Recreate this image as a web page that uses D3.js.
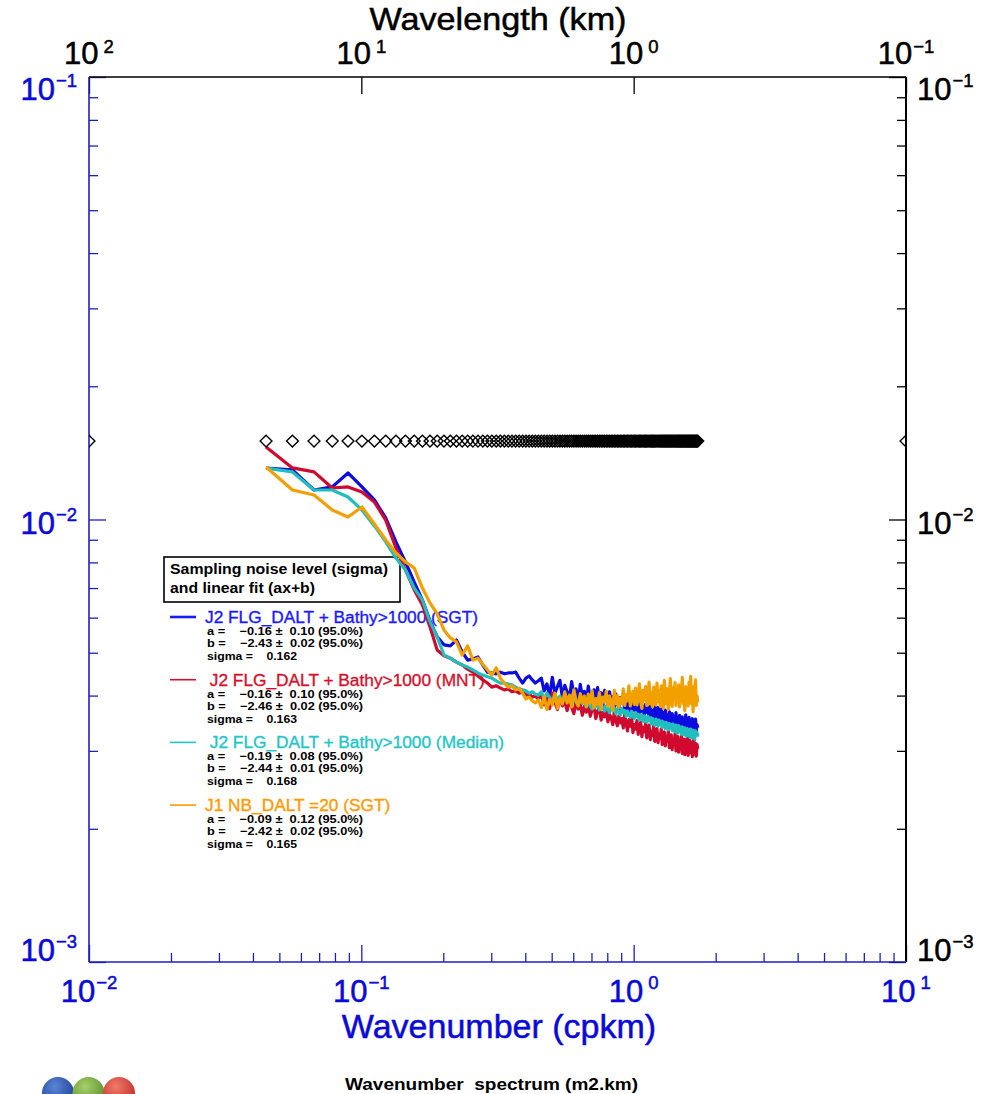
<!DOCTYPE html>
<html><head><meta charset="utf-8">
<script src="https://cdn.jsdelivr.net/npm/d3@7"></script>
<style>
html,body{margin:0;padding:0;background:#fff;overflow:hidden}
svg{display:block}
text{font-family:"Liberation Sans",Arial,Helvetica,sans-serif}
</style></head><body>
<svg id="chart" width="983" height="1094"></svg>
<script>
// ---------------- DATA ----------------
// wavenumber grid (cpkm)
const wavenumber = [
0.04468,0.05585,0.06702,0.07819,0.08936,0.1005,0.1117,0.1229,0.1340,0.1452,
0.1564,0.1676,0.1787,0.1899,0.2011,0.2122,0.2234,0.2346,0.2457,0.2569,
0.2681,0.2793,0.2904,0.3016,0.3128,0.3239,0.3351,0.3463,0.3574,0.3686,
0.3798,0.3910,0.4021,0.4133,0.4245,0.4356,0.4468,
0.4580,0.4691,0.4803,0.4915,0.5027,0.5138,0.5250,0.5362,0.5473,0.5585,
0.5697,0.5808,0.5920,0.6032,0.6144,0.6255,0.6367,0.6479,0.6590,0.6702,
0.6814,0.6925,0.7037,0.7149,0.7261,0.7372,0.7484,0.7596,0.7707,0.7819,
0.7931,0.8042,0.8154,0.8266,0.8378,0.8489,0.8601,0.8713,0.8824,0.8936,
0.9048,0.9159,0.9271,0.9383,0.9495,0.9606,0.9718,0.9830,0.9941,1.005,
1.016,1.028,1.039,1.050,1.061,1.072,1.083,1.095,1.106,1.117,
1.128,1.139,1.151,1.162,1.173,1.184,1.195,1.206,1.218,1.229,
1.240,1.251,1.262,1.273,1.285,1.296,1.307,1.318,1.329,1.340,
1.352,1.363,1.374,1.385,1.396,1.407,1.419,1.430,1.441,1.452,
1.463,1.474,1.486,1.497,1.508,1.519,1.530,1.541,1.553,1.564,
1.575,1.586,1.597,1.608,1.620,1.631,1.642,1.653,1.664,1.676,
1.687,1.698,1.709,1.720];

// J2 FLG_DALT + Bathy>1000 (SGT)
const spectrumSGT = [
13.07e-3,12.94e-3,11.66e-3,11.85e-3,12.74e-3,11.85e-3,11.07e-3,10.08e-3,8.90e-3,8.02e-3,
7.22e-3,6.58e-3,5.90e-3,5.43e-3,5.21e-3,5.18e-3,5.34e-3,5.02e-3,4.81e-3,4.84e-3,
4.89e-3,4.69e-3,4.52e-3,4.50e-3,4.48e-3,4.52e-3,4.48e-3,4.50e-3,4.50e-3,4.52e-3,
4.38e-3,4.27e-3,4.38e-3,4.43e-3,4.34e-3,4.27e-3,4.32e-3,
4.38e-3,4.10e-3,4.25e-3,3.98e-3,4.40e-3,4.05e-3,4.19e-3,4.33e-3,3.96e-3,4.22e-3,
4.08e-3,3.93e-3,4.30e-3,4.01e-3,4.14e-3,3.88e-3,4.24e-3,3.97e-3,4.09e-3,3.86e-3,
4.20e-3,3.95e-3,3.83e-3,4.12e-3,3.99e-3,4.17e-3,3.85e-3,4.06e-3,3.79e-3,4.11e-3,
3.92e-3,3.81e-3,4.08e-3,3.86e-3,3.98e-3,3.74e-3,4.03e-3,3.90e-3,3.72e-3,3.96e-3,
3.84e-3,4.00e-3,3.70e-3,3.91e-3,3.79e-3,3.66e-3,3.94e-3,3.80e-3,3.71e-3,3.89e-3,
3.63e-3,3.85e-3,3.74e-3,3.60e-3,3.88e-3,3.69e-3,3.78e-3,3.58e-3,3.82e-3,3.67e-3,
3.75e-3,3.55e-3,3.84e-3,3.62e-3,3.70e-3,3.52e-3,3.79e-3,3.64e-3,3.57e-3,3.76e-3,
3.60e-3,3.49e-3,3.73e-3,3.56e-3,3.66e-3,3.46e-3,3.71e-3,3.53e-3,3.62e-3,3.44e-3,
3.68e-3,3.51e-3,3.40e-3,3.64e-3,3.48e-3,3.59e-3,3.38e-3,3.66e-3,3.45e-3,3.55e-3,
3.36e-3,3.61e-3,3.47e-3,3.33e-3,3.58e-3,3.43e-3,3.52e-3,3.31e-3,3.62e-3,3.41e-3,
3.50e-3,3.29e-3,3.57e-3,3.39e-3,3.46e-3,3.27e-3,3.55e-3,3.36e-3,3.48e-3,3.30e-3,
3.54e-3,3.33e-3,3.44e-3,3.38e-3];

// J2 FLG_DALT + Bathy>1000 (MNT)
const spectrumMNT = [
14.58e-3,13.08e-3,12.81e-3,11.78e-3,11.85e-3,11.54e-3,10.95e-3,9.97e-3,8.62e-3,7.69e-3,
6.93e-3,6.41e-3,5.72e-3,5.07e-3,4.92e-3,4.86e-3,4.76e-3,4.69e-3,4.59e-3,4.52e-3,
4.43e-3,4.34e-3,4.27e-3,4.18e-3,4.21e-3,4.16e-3,4.12e-3,4.14e-3,4.08e-3,4.10e-3,
4.05e-3,4.08e-3,4.01e-3,4.03e-3,3.97e-3,3.99e-3,3.93e-3,
4.02e-3,3.81e-3,3.95e-3,3.74e-3,4.05e-3,3.86e-3,3.72e-3,3.97e-3,3.79e-3,3.88e-3,
3.70e-3,3.92e-3,3.76e-3,3.64e-3,3.89e-3,3.73e-3,3.82e-3,3.61e-3,3.78e-3,3.67e-3,
3.85e-3,3.59e-3,3.71e-3,3.80e-3,3.55e-3,3.69e-3,3.76e-3,3.52e-3,3.66e-3,3.58e-3,
3.74e-3,3.49e-3,3.63e-3,3.56e-3,3.44e-3,3.68e-3,3.51e-3,3.42e-3,3.60e-3,3.47e-3,
3.55e-3,3.38e-3,3.62e-3,3.45e-3,3.33e-3,3.53e-3,3.41e-3,3.58e-3,3.30e-3,3.44e-3,
3.36e-3,3.51e-3,3.27e-3,3.40e-3,3.48e-3,3.23e-3,3.39e-3,3.31e-3,3.46e-3,3.21e-3,
3.35e-3,3.43e-3,3.18e-3,3.32e-3,3.25e-3,3.41e-3,3.15e-3,3.29e-3,3.37e-3,3.13e-3,
3.27e-3,3.20e-3,3.36e-3,3.10e-3,3.24e-3,3.31e-3,3.08e-3,3.22e-3,3.15e-3,3.33e-3,
3.05e-3,3.19e-3,3.26e-3,3.02e-3,3.17e-3,3.09e-3,3.28e-3,3.00e-3,3.13e-3,3.23e-3,
2.98e-3,3.15e-3,3.06e-3,3.25e-3,2.96e-3,3.11e-3,3.19e-3,2.94e-3,3.08e-3,3.16e-3,
3.22e-3,2.93e-3,3.05e-3,3.17e-3,2.97e-3,3.14e-3,2.91e-3,3.09e-3,3.20e-3,2.95e-3,
3.12e-3,2.92e-3,3.10e-3,3.03e-3];

// J2 FLG_DALT + Bathy>1000 (Median)
const spectrumMedian = [
13.07e-3,12.81e-3,11.66e-3,11.66e-3,11.24e-3,10.51e-3,9.67e-3,8.90e-3,8.18e-3,7.69e-3,
7.00e-3,6.58e-3,5.87e-3,5.43e-3,4.94e-3,4.86e-3,4.76e-3,4.69e-3,4.64e-3,4.57e-3,
4.50e-3,4.45e-3,4.41e-3,4.38e-3,4.32e-3,4.27e-3,4.27e-3,4.25e-3,4.23e-3,4.18e-3,
4.14e-3,4.12e-3,4.10e-3,4.05e-3,4.08e-3,4.03e-3,4.01e-3,
4.08e-3,3.93e-3,4.05e-3,3.96e-3,3.88e-3,4.02e-3,3.91e-3,3.99e-3,3.85e-3,3.97e-3,
3.89e-3,3.98e-3,3.83e-3,3.94e-3,3.86e-3,3.80e-3,3.93e-3,3.84e-3,3.90e-3,3.77e-3,
3.88e-3,3.79e-3,3.73e-3,3.85e-3,3.78e-3,3.84e-3,3.71e-3,3.80e-3,3.75e-3,3.69e-3,
3.79e-3,3.72e-3,3.66e-3,3.77e-3,3.70e-3,3.75e-3,3.64e-3,3.73e-3,3.68e-3,3.62e-3,
3.74e-3,3.66e-3,3.70e-3,3.59e-3,3.69e-3,3.63e-3,3.57e-3,3.68e-3,3.61e-3,3.55e-3,
3.66e-3,3.58e-3,3.63e-3,3.52e-3,3.62e-3,3.56e-3,3.50e-3,3.60e-3,3.54e-3,3.48e-3,
3.59e-3,3.51e-3,3.56e-3,3.45e-3,3.55e-3,3.49e-3,3.43e-3,3.54e-3,3.47e-3,3.41e-3,
3.52e-3,3.44e-3,3.50e-3,3.39e-3,3.49e-3,3.43e-3,3.37e-3,3.48e-3,3.41e-3,3.35e-3,
3.46e-3,3.38e-3,3.44e-3,3.33e-3,3.45e-3,3.37e-3,3.31e-3,3.43e-3,3.35e-3,3.29e-3,
3.42e-3,3.34e-3,3.39e-3,3.27e-3,3.40e-3,3.32e-3,3.26e-3,3.38e-3,3.30e-3,3.24e-3,
3.37e-3,3.29e-3,3.35e-3,3.22e-3,3.36e-3,3.28e-3,3.21e-3,3.34e-3,3.26e-3,3.19e-3,
3.33e-3,3.25e-3,3.30e-3,3.23e-3];

// J1 NB_DALT =20 (SGT)
const spectrumJ1 = [
13.14e-3,11.66e-3,11.36e-3,10.51e-3,10.13e-3,10.67e-3,9.77e-3,8.99e-3,8.40e-3,8.02e-3,
7.77e-3,7.00e-3,6.48e-3,6.12e-3,5.63e-3,5.40e-3,5.29e-3,4.94e-3,5.18e-3,4.81e-3,
4.86e-3,4.71e-3,4.57e-3,4.45e-3,4.62e-3,4.38e-3,4.27e-3,4.18e-3,4.21e-3,4.12e-3,
4.16e-3,4.05e-3,3.93e-3,3.97e-3,3.89e-3,3.85e-3,3.91e-3,
3.76e-3,3.98e-3,3.72e-3,3.92e-3,3.81e-3,4.05e-3,3.74e-3,3.95e-3,3.83e-3,4.08e-3,
3.85e-3,4.01e-3,3.77e-3,4.12e-3,3.90e-3,3.79e-3,4.04e-3,3.86e-3,3.99e-3,3.78e-3,
4.03e-3,3.84e-3,4.10e-3,3.75e-3,3.93e-3,3.82e-3,4.06e-3,3.73e-3,3.97e-3,3.87e-3,
4.09e-3,3.78e-3,3.99e-3,3.88e-3,3.70e-3,4.11e-3,3.83e-3,4.00e-3,3.76e-3,3.95e-3,
3.84e-3,4.14e-3,3.80e-3,4.02e-3,3.89e-3,4.21e-3,3.79e-3,3.97e-3,4.09e-3,3.82e-3,
4.16e-3,3.81e-3,4.01e-3,4.25e-3,3.87e-3,3.74e-3,4.11e-3,3.90e-3,4.19e-3,3.80e-3,
3.99e-3,4.29e-3,3.83e-3,4.06e-3,3.77e-3,4.18e-3,3.93e-3,3.81e-3,4.27e-3,3.88e-3,
4.10e-3,3.79e-3,4.21e-3,3.92e-3,3.74e-3,4.33e-3,3.96e-3,3.83e-3,4.15e-3,3.72e-3,
4.04e-3,4.37e-3,3.86e-3,3.78e-3,4.17e-3,3.95e-3,4.28e-3,3.80e-3,4.07e-3,3.89e-3,
4.23e-3,3.77e-3,4.12e-3,3.97e-3,4.40e-3,3.84e-3,4.05e-3,3.70e-3,4.19e-3,3.91e-3,
4.08e-3,3.79e-3,4.29e-3,3.94e-3,4.42e-3,3.83e-3,4.11e-3,3.68e-3,4.20e-3,3.88e-3,
4.34e-3,3.80e-3,4.00e-3,3.86e-3];

const seriesNames = [
  "J2 FLG_DALT + Bathy>1000 (SGT)",
  " J2 FLG_DALT + Bathy>1000 (MNT)",
  " J2 FLG_DALT + Bathy>1000 (Median)",
  "J1 NB_DALT =20 (SGT)"];
const fitA     = ["\u22120.16", "\u22120.16", "\u22120.19", "\u22120.09"];
const fitAErr  = ["0.10", "0.10", "0.08", "0.12"];
const fitB     = ["\u22122.43", "\u22122.46", "\u22122.44", "\u22122.42"];
const fitBErr  = ["0.02", "0.02", "0.01", "0.02"];
const sigmaVal = ["0.162", "0.163", "0.168", "0.165"];

const noiseLevel = 0.01504;          // diamonds level
const edgeMarkers = [0.01, 10];      // clipped markers at frame edges
const xTickExps = [-2, -1, 0, 1];    // wavenumber decades
const yTickExps = [-1, -2, -3];      // spectrum decades
const topTickExps = [2, 1, 0, -1];   // wavelength decades

// ---------------- STYLE / LAYOUT ----------------
const seriesColors = ["#0c0ce0", "#cf0a2e", "#22bdbd", "#f2a000"];
const legendColors = ["#1a1aff", "#d6102c", "#22c6c6", "#ff9a00"];
const axisBlue = "#1f1fc0", labelBlue = "#0a0ad8";
const L = 89, R = 906, T = 77, B = 962;

const svg = d3.select("#chart");
const x = d3.scaleLog().domain([0.01, 10]).range([L, R]);
const y = d3.scaleLog().domain([1e-3, 1e-1]).range([B, T]);
const xTop = d3.scaleLog().domain([100, 0.1]).range([L, R]);

function minorTicks(lo, hi) {
  const t = [];
  for (let e = lo; e < hi; e++) for (let m = 2; m <= 9; m++) t.push(+(m * Math.pow(10, e)).toPrecision(3));
  return t;
}
const majorVal = e => +Math.pow(10, e).toPrecision(3);

svg.append("defs").append("clipPath").attr("id", "plotclip")
  .append("rect").attr("x", L).attr("y", T).attr("width", R - L).attr("height", B - T);

// ---- axes ticks
function styleAxis(g, color) {
  g.select(".domain").remove();
  g.selectAll(".tick line").attr("stroke", color).attr("stroke-width", 1.3);
  g.selectAll(".tick text").remove();
}
svg.append("g").attr("transform", `translate(0,${B})`)
  .call(d3.axisBottom(x).tickValues(minorTicks(-2, 1)).tickSize(-9).tickSizeOuter(0))
  .call(g => styleAxis(g, axisBlue));
svg.append("g").attr("transform", `translate(0,${B})`)
  .call(d3.axisBottom(x).tickValues(xTickExps.map(majorVal)).tickSize(-17).tickSizeOuter(0))
  .call(g => styleAxis(g, axisBlue));
svg.append("g").attr("transform", `translate(${L},0)`)
  .call(d3.axisLeft(y).tickValues(minorTicks(-3, -1)).tickSize(-9).tickSizeOuter(0))
  .call(g => styleAxis(g, axisBlue));
svg.append("g").attr("transform", `translate(${L},0)`)
  .call(d3.axisLeft(y).tickValues(yTickExps.map(majorVal)).tickSize(-17).tickSizeOuter(0))
  .call(g => styleAxis(g, axisBlue));
svg.append("g").attr("transform", `translate(${R},0)`)
  .call(d3.axisRight(y).tickValues(minorTicks(-3, -1)).tickSize(-9).tickSizeOuter(0))
  .call(g => styleAxis(g, "#000"));
svg.append("g").attr("transform", `translate(${R},0)`)
  .call(d3.axisRight(y).tickValues(yTickExps.map(majorVal)).tickSize(-17).tickSizeOuter(0))
  .call(g => styleAxis(g, "#000"));
svg.append("g").attr("transform", `translate(0,${T})`)
  .call(d3.axisTop(xTop).tickValues(topTickExps.map(majorVal)).tickSize(-17).tickSizeOuter(0))
  .call(g => styleAxis(g, "#000"));

// frame
svg.append("line").attr("x1", L).attr("x2", R).attr("y1", T).attr("y2", T).attr("stroke", "#000").attr("stroke-width", 1.6);
svg.append("line").attr("x1", R).attr("x2", R).attr("y1", T).attr("y2", B).attr("stroke", "#000").attr("stroke-width", 2);
svg.append("line").attr("x1", L).attr("x2", L).attr("y1", T).attr("y2", B).attr("stroke", axisBlue).attr("stroke-width", 1.6);
svg.append("line").attr("x1", L).attr("x2", R).attr("y1", B).attr("y2", B).attr("stroke", axisBlue).attr("stroke-width", 1.6);

// ---- tick labels (10^e)
function powLabel(px, py, e, anchor, color, supDy) {
  const t = svg.append("text").attr("x", px).attr("y", py).attr("text-anchor", anchor)
    .attr("fill", color).attr("stroke", color).attr("stroke-width", 0.5).attr("font-size", 31);
  t.append("tspan").text("10");
  t.append("tspan").attr("font-size", 18.5).attr("dy", supDy).attr("dx", e >= 0 ? 5 : 1)
    .text(e < 0 ? "\u2212" + Math.abs(e) : String(e));
}
xTickExps.forEach(e => powLabel(x(majorVal(e)), 1002, e, "middle", labelBlue, -13));
topTickExps.forEach(e => powLabel(xTop(majorVal(e)), 64, e, "middle", "#000", -11));
function yLabelBase(v) {
  const py = y(v);
  if (py <= T + 1) return py + 23;
  if (py >= B - 1) return py - 1;
  return py + 14;
}
yTickExps.forEach(e => powLabel(77, yLabelBase(majorVal(e)), e, "end", labelBlue, -13));
yTickExps.forEach(e => powLabel(917, yLabelBase(majorVal(e)), e, "start", "#000", -13));

// axis titles
svg.append("text").attr("x", 498).attr("y", 29.5).attr("text-anchor", "middle")
  .attr("font-size", 32).attr("textLength", 257).attr("lengthAdjust", "spacingAndGlyphs")
  .attr("fill", "#000").attr("stroke", "#000").attr("stroke-width", 0.5)
  .text("Wavelength (km)");
svg.append("text").attr("x", 499).attr("y", 1038).attr("text-anchor", "middle")
  .attr("font-size", 34).attr("fill", labelBlue).attr("stroke", labelBlue).attr("stroke-width", 0.5)
  .text("Wavenumber (cpkm)");
svg.append("text").attr("x", 345).attr("y", 1090).attr("font-size", 17).attr("font-weight", "bold")
  .attr("textLength", 293).attr("lengthAdjust", "spacingAndGlyphs").attr("xml:space", "preserve")
  .attr("fill", "#000").text("Wavenumber  spectrum (m2.km)");

// ---- logo (partially visible)
const logoColors = [["#5a86d6", "#1d3f94"], ["#a6cf6a", "#5b8f2c"], ["#f07a6a", "#c0302a"]];
const defs = svg.select("defs");
logoColors.forEach((c, i) => {
  const g = defs.append("radialGradient").attr("id", "lg" + i).attr("cx", "40%").attr("cy", "30%").attr("r", "70%");
  g.append("stop").attr("offset", "0%").attr("stop-color", c[0]);
  g.append("stop").attr("offset", "100%").attr("stop-color", c[1]);
  svg.append("circle").attr("cx", 58 + i * 30.5).attr("cy", 1093).attr("r", 16).attr("fill", `url(#lg${i})`);
});

// ---- legend box
svg.append("rect").attr("x", 164).attr("y", 557).attr("width", 236).attr("height", 45)
  .attr("fill", "#fff").attr("stroke", "#000").attr("stroke-width", 1.6);
svg.append("text").attr("x", 170).attr("y", 574).attr("font-size", 15.5).attr("font-weight", "bold")
  .attr("textLength", 218).attr("lengthAdjust", "spacingAndGlyphs").text("Sampling noise level (sigma)");
svg.append("text").attr("x", 170).attr("y", 593).attr("font-size", 15.5).attr("font-weight", "bold")
  .attr("textLength", 145).attr("lengthAdjust", "spacingAndGlyphs").text("and linear fit (ax+b)");

// ---- legend entries
seriesNames.forEach((name, i) => {
  const c = 617 + i * 62.7;
  svg.append("line").attr("x1", 170).attr("x2", 196).attr("y1", c).attr("y2", c)
    .attr("stroke", legendColors[i]).attr("stroke-width", i === 0 ? 2.6 : 1.6);
  svg.append("text").attr("x", 205).attr("y", c + 6).attr("font-size", 17.3).attr("xml:space", "preserve")
    .attr("fill", legendColors[i]).attr("stroke", legendColors[i]).attr("stroke-width", 0.35).text(name);
  const sub = [
    ["a =    " + fitA[i] + " \u00b1  " + fitAErr[i] + " (95.0%)", c + 18, 156],
    ["b =    " + fitB[i] + " \u00b1  " + fitBErr[i] + " (95.0%)", c + 30, 156],
    ["sigma =    " + sigmaVal[i], c + 43, 90]];
  sub.forEach(s => {
    svg.append("text").attr("x", 207).attr("y", s[1]).attr("font-size", 11).attr("font-weight", "bold")
      .attr("xml:space", "preserve").attr("textLength", s[2]).attr("lengthAdjust", "spacingAndGlyphs")
      .attr("fill", "#000").text(s[0]);
  });
});

// ---- spectra
const allSeries = [spectrumSGT, spectrumMNT, spectrumMedian, spectrumJ1];
const line = d3.line().x(d => x(d[0])).y(d => y(d[1]));
const plot = svg.append("g").attr("clip-path", "url(#plotclip)");
allSeries.forEach((s, i) => {
  plot.append("path").datum(wavenumber.map((k, j) => [k, s[j]]))
    .attr("d", line).attr("fill", "none").attr("stroke", seriesColors[i])
    .attr("stroke-width", 3.2).attr("stroke-linejoin", "round");
});

// ---- noise-level diamonds
const diamond = d3.symbol().type(d3.symbolSquare).size(70);
plot.selectAll("path.dm").data(wavenumber.concat(edgeMarkers)).enter().append("path")
  .attr("class", "dm").attr("d", diamond)
  .attr("transform", k => `translate(${x(k)},${y(noiseLevel)}) rotate(45)`)
  .attr("fill", "none").attr("stroke", "#000").attr("stroke-width", 1.4);
</script>
</body></html>
